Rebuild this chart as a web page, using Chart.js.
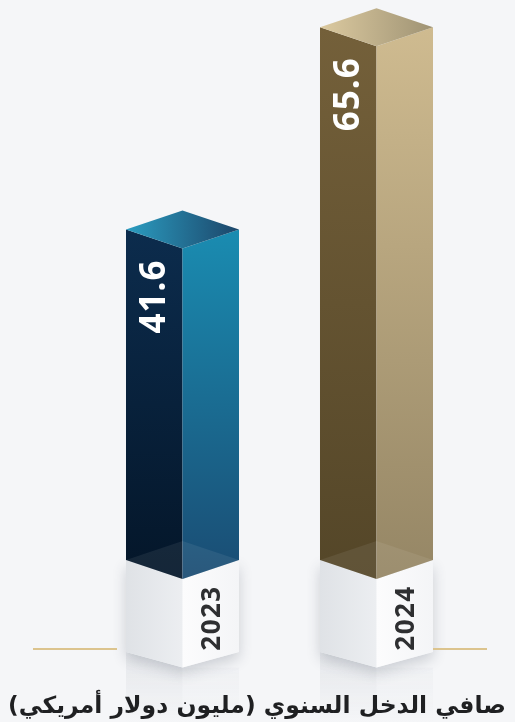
<!DOCTYPE html>
<html>
<head>
<meta charset="utf-8">
<script src="https://cdn.jsdelivr.net/npm/chart.js@4.4.1/dist/chart.umd.min.js"></script>
<style>
  html, body { margin: 0; padding: 0; background: #f5f6f8; }
  #wrap { width: 515px; height: 722px; }
</style>
</head>
<body>
<div id="wrap"><canvas id="c" width="515" height="722"></canvas></div>
<script>
// ---- data ----
const years = ['2023', '2024'];
const netIncome = [41.6, 65.6];
const valueLabels = ['41.6', '65.6'];
const chartTitle = 'صافي الدخل السنوي (مليون دولار أمريكي)';

// ---- styles ----
const palettes = [
  { frontTop: '#0c2c4d', frontBot: '#041629', sideTop: '#1a8cb1', sideBot: '#1a4c73', topL: '#2b9dc1', topR: '#1c4569' },
  { frontTop: '#74603a', frontBot: '#544628', sideTop: '#cfbb90', sideBot: '#958665', topL: '#dccaa0', topR: '#9f9374' }
];

const bar3d = {
  id: 'bar3d',
  afterDatasetsDraw(chart) {
    const ctx = chart.ctx;
    const meta = chart.getDatasetMeta(0);
    const H = chart.height;
    meta.data.forEach((el, i) => {
      const p = el.getProps(['x', 'y', 'base', 'width'], true);
      const w = p.width, L = p.x - w / 2, R = p.x + w / 2, C = p.x;
      const d = w * 0.168;
      const y = p.y, base = p.base;
      const pal = palettes[i];
      const pt = base - 20;           // pedestal top (outer edges)
      const pc = pt + d;              // pedestal top (front corner)
      const pb = pt + 92;             // pedestal bottom (outer edges)
      const pbc = pb + d * 0.82;      // pedestal bottom (front corner)

      ctx.save();
      // reflection stripe below pedestal
      let g = ctx.createLinearGradient(0, pb, 0, H);
      g.addColorStop(0, 'rgba(200,204,210,0.35)');
      g.addColorStop(1, 'rgba(200,204,210,0.0)');
      ctx.fillStyle = g;
      ctx.fillRect(L, pb, C - L, H - pb);
      g = ctx.createLinearGradient(0, pb, 0, H);
      g.addColorStop(0, 'rgba(225,228,232,0.35)');
      g.addColorStop(1, 'rgba(225,228,232,0.0)');
      ctx.fillStyle = g;
      ctx.fillRect(C, pbc, R - C, H - pbc);

      // pedestal with shadow
      ctx.save();
      ctx.shadowColor = 'rgba(60,70,85,0.22)';
      ctx.shadowBlur = 14;
      ctx.shadowOffsetY = 6;
      ctx.beginPath();
      ctx.moveTo(L, pt); ctx.lineTo(C, pc); ctx.lineTo(R, pt);
      ctx.lineTo(R, pb); ctx.lineTo(C, pbc); ctx.lineTo(L, pb);
      ctx.closePath();
      ctx.fillStyle = '#eef0f2';
      ctx.fill();
      ctx.restore();
      // pedestal left face
      g = ctx.createLinearGradient(L, 0, C, 0);
      g.addColorStop(0, '#dfe2e6');
      g.addColorStop(1, '#eceef1');
      ctx.fillStyle = g;
      ctx.beginPath();
      ctx.moveTo(L, pt); ctx.lineTo(C, pc); ctx.lineTo(C, pbc); ctx.lineTo(L, pb);
      ctx.closePath(); ctx.fill();
      // pedestal right face
      g = ctx.createLinearGradient(C, 0, R, 0);
      g.addColorStop(0, '#fcfcfd');
      g.addColorStop(1, '#f4f5f7');
      ctx.fillStyle = g;
      ctx.beginPath();
      ctx.moveTo(C, pc); ctx.lineTo(R, pt); ctx.lineTo(R, pb); ctx.lineTo(C, pbc);
      ctx.closePath(); ctx.fill();

      // bar front face
      g = ctx.createLinearGradient(0, y, 0, pc);
      g.addColorStop(0, pal.frontTop);
      g.addColorStop(1, pal.frontBot);
      ctx.fillStyle = g;
      ctx.beginPath();
      ctx.moveTo(L, y); ctx.lineTo(C, y + d); ctx.lineTo(C, pc); ctx.lineTo(L, pt);
      ctx.closePath(); ctx.fill();
      // bar side face
      g = ctx.createLinearGradient(0, y, 0, pc);
      g.addColorStop(0, pal.sideTop);
      g.addColorStop(1, pal.sideBot);
      ctx.fillStyle = g;
      ctx.beginPath();
      ctx.moveTo(C, y + d); ctx.lineTo(R, y); ctx.lineTo(R, pt); ctx.lineTo(C, pc);
      ctx.closePath(); ctx.fill();
      // bar top face
      g = ctx.createLinearGradient(L, 0, R, 0);
      g.addColorStop(0, pal.topL);
      g.addColorStop(1, pal.topR);
      ctx.fillStyle = g;
      ctx.beginPath();
      ctx.moveTo(L, y); ctx.lineTo(C, y - d); ctx.lineTo(R, y); ctx.lineTo(C, y + d);
      ctx.closePath(); ctx.fill();
      // translucent glass band near the bottom
      ctx.fillStyle = 'rgba(255,255,255,0.07)';
      ctx.beginPath();
      ctx.moveTo(L, pt); ctx.lineTo(C, pt - d); ctx.lineTo(R, pt); ctx.lineTo(C, pc);
      ctx.closePath(); ctx.fill();

      // value label (rotated)
      ctx.save();
      ctx.translate((L + C) / 2 + 1, y + 30);
      ctx.rotate(-Math.PI / 2);
      ctx.fillStyle = '#ffffff';
      ctx.font = 'bold 35px "Open Sans", "Noto Sans", sans-serif';
      ctx.letterSpacing = '1px';
      ctx.textAlign = 'right';
      ctx.textBaseline = 'middle';
      ctx.fillText(valueLabels[i], 0, 0);
      ctx.restore();

      // year label on pedestal (rotated)
      ctx.save();
      ctx.translate((C + R) / 2 + 2, pt + 58);
      ctx.rotate(-Math.PI / 2);
      ctx.fillStyle = '#2e2f31';
      ctx.font = 'bold 26px "Open Sans", "Noto Sans", sans-serif';
      ctx.letterSpacing = '1.5px';
      ctx.textAlign = 'center';
      ctx.textBaseline = 'middle';
      ctx.fillText(chart.data.labels[i], 0, 0);
      ctx.restore();
      ctx.restore();
    });

    // gold lines
    const first = meta.data[0].getProps(['x', 'base', 'width'], true);
    const last = meta.data[meta.data.length - 1].getProps(['x', 'base', 'width'], true);
    const ly = first.base + 69;
    ctx.save();
    ctx.strokeStyle = '#dcc48e';
    ctx.lineWidth = 2;
    ctx.beginPath();
    ctx.moveTo(33, ly); ctx.lineTo(first.x - first.width / 2 - 9, ly);
    ctx.moveTo(last.x + last.width / 2, ly); ctx.lineTo(487, ly);
    ctx.stroke();

    // title
    ctx.fillStyle = '#1f2022';
    ctx.textAlign = 'center';
    ctx.textBaseline = 'alphabetic';
    ctx.direction = 'rtl';
    let fs = 32;
    ctx.font = 'bold ' + fs + 'px "DejaVu Sans", sans-serif';
    while (ctx.measureText(chartTitle).width > 503 && fs > 10) {
      fs -= 0.5;
      ctx.font = 'bold ' + fs + 'px "DejaVu Sans", sans-serif';
    }
    ctx.fillText(chartTitle, 257, 713);
    ctx.restore();
  }
};

new Chart(document.getElementById('c'), {
  type: 'bar',
  data: {
    labels: years,
    datasets: [{
      data: netIncome,
      backgroundColor: 'rgba(0,0,0,0)',
      borderWidth: 0,
      barPercentage: 1,
      categoryPercentage: 0.5825
    }]
  },
  options: {
    responsive: false,
    devicePixelRatio: 1,
    animation: false,
    layout: { padding: { left: 85.5, right: 41.5, top: 7, bottom: 142 } },
    plugins: { legend: { display: false }, tooltip: { enabled: false }, title: { display: false } },
    scales: {
      x: { display: false },
      y: { display: false, min: 0, max: 68 }
    }
  },
  plugins: [bar3d]
});
</script>
</body>
</html>
